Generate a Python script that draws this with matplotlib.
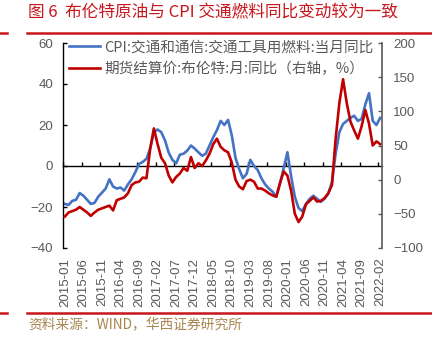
import matplotlib
matplotlib.use("Agg")
import matplotlib.pyplot as plt
from matplotlib.lines import Line2D
import numpy as np

# ---------------- data ----------------
months = [f"{y}-{m:02d}" for y in range(2015, 2023) for m in range(1, 13)][:86]  # 2015-01 .. 2022-02

cpi_fuel = [-18.5, -19, -17, -16.5, -13.2, -14.5, -16.5, -18.5, -18, -15,
            -13, -11, -6.5, -10, -11, -10.5, -12, -9, -6.5, -3,
            1, 2, 3.5, 8.5, 16.5, 17.8, 16.5, 12.5, 6.5, 3,
            1.3, 5.5, 6, 7.5, 10, 8.5, 6.7, 5, 6, 10,
            14, 17.5, 22, 20, 22.5, 15, 4, -1.5, -6, -3.8,
            3, 0, -2, -6, -9, -11, -12.5, -15, -8.5, -1,
            6.7, -5, -15, -20.5, -22, -18.5, -16, -14.5, -16, -17.5,
            -16, -13.5, -8, 6, 16.5, 20.5, 22, 23.5, 24.5, 22,
            23, 30, 35.5, 22, 20, 23.5]

brent_yoy = [-54, -48, -46, -44, -40, -44, -48, -53, -48, -44,
             -42, -40, -38, -45, -30, -28, -26, -20, -8, -4,
             -3, 3, 2, 45, 75, 52, 32, 24, 6, -4,
             4, 9, 17, 13, 33, 17, 24, 20, 28, 38,
             52, 60, 48, 43, 40, 25, 0, -10, -14, -2,
             0, -3, -13, -13, -16, -20, -23, -25, -5, 12,
             6, -16, -50, -62, -54, -36, -31, -26, -32, -31,
             -27, -20, -8, 60, 112, 147, 112, 85, 72, 60,
             78, 102, 82, 50, 56, 52]

tick_labels = ["2015-01", "2015-06", "2015-11", "2016-04", "2016-09", "2017-02",
               "2017-07", "2017-12", "2018-05", "2018-10", "2019-03", "2019-08",
               "2020-01", "2020-06", "2020-11", "2021-04", "2021-09", "2022-02"]

label_cpi = "CPI:交通和通信:交通工具用燃料:当月同比"
label_brent = "期货结算价:布伦特:月:同比（右轴，%）"
title = "图 6  布伦特原油与 CPI 交通燃料同比变动较为一致"
source = "资料来源：WIND，华西证券研究所"

# ---------------- style ----------------
CJK = ["Noto Sans CJK SC", "DejaVu Sans"]
NUM = ["Liberation Sans", "DejaVu Sans"]
BLUE = "#4472C4"
RED = "#C00000"
GRAY = "#595959"

fig = plt.figure(figsize=(4.32, 3.41), dpi=100)
ax = fig.add_axes([63 / 432, 1 - 248 / 341, 319 / 432, 205 / 341])
ax2 = ax.twinx()

x = np.arange(len(months)) + 0.5
l1, = ax.plot(x, cpi_fuel, color=BLUE, lw=1.9, zorder=2, solid_joinstyle="round")
l2, = ax2.plot(x, brent_yoy, color=RED, lw=1.9, zorder=2, solid_joinstyle="round")

ax.set_xlim(0, len(months))
ax.set_ylim(-40, 60)
ax2.set_ylim(-100, 200)
ax.set_yticks(np.arange(-40, 61, 20))
ax2.set_yticks(np.arange(-100, 201, 50))

# x ticks: labels at category centres, tick marks at category boundaries on zero line
label_idx = [months.index(t) for t in tick_labels]
ax.set_xticks([i + 0.5 for i in label_idx])
ax.set_xticklabels(tick_labels)
ax.set_xticks(label_idx, minor=True)

# left axes: bottom spine at y=0 acts as zero line with marks
ax.spines["bottom"].set_position(("data", 0))
ax.spines["bottom"].set_zorder(1)
ax.spines["bottom"].set_linewidth(1.0)
ax.spines["top"].set_visible(False)
ax.spines["right"].set_visible(False)
ax.spines["left"].set_linewidth(1.0)
ax.tick_params(axis="x", which="major", length=0, labelbottom=False)
ax.tick_params(axis="x", which="minor", direction="in", length=3, width=1, color="black")
ax.tick_params(axis="y", direction="in", length=3, width=1, pad=7, labelsize=9.5,
               labelcolor=GRAY)

# right axes: carries date labels at bottom
ax2.xaxis.set_visible(True)
ax2.spines["bottom"].set_visible(False)
ax2.spines["top"].set_visible(False)
ax2.spines["left"].set_visible(False)
ax2.spines["right"].set_color(GRAY)
ax2.spines["right"].set_linewidth(1.2)
ax2.tick_params(axis="x", which="major", length=0, labelbottom=True, pad=7,
                labelsize=9.5, labelcolor=GRAY, labelrotation=90)
ax2.tick_params(axis="x", which="minor", length=0)
ax2.tick_params(axis="y", direction="in", length=3, width=1, pad=8, labelsize=9.5,
                labelcolor=GRAY, color=GRAY)

for lab in ax.get_yticklabels() + ax2.get_yticklabels() + ax2.get_xticklabels():
    lab.set_family(NUM)

leg = ax2.legend([l1, l2], [label_cpi, label_brent], loc="upper left",
                 bbox_to_anchor=(0.02, 1.012), frameon=False, prop={"family": CJK, "size": 10.5},
                 handlelength=2.1, handletextpad=0.3, labelspacing=0.5, borderpad=0,
                 borderaxespad=0)
for t in leg.get_texts():
    t.set_color(GRAY)

# title, separators, source
fig.text(28 / 432, 1 - 13 / 341, title, family=CJK, size=12, color="#C8161D",
         va="center", ha="left")
fig.text(28 / 432, 1 - 324 / 341, source, family=CJK, size=9.9, color="#A9844F",
         va="center", ha="left")
for yy in (33, 313):
    yf = 1 - yy / 341
    fig.add_artist(Line2D([0, 7 / 432], [yf, yf], color="#C8161D", lw=1.8))
    fig.add_artist(Line2D([27 / 432, 1], [yf, yf], color="#C8161D", lw=1.8))

fig.savefig("out.png", dpi=100)
